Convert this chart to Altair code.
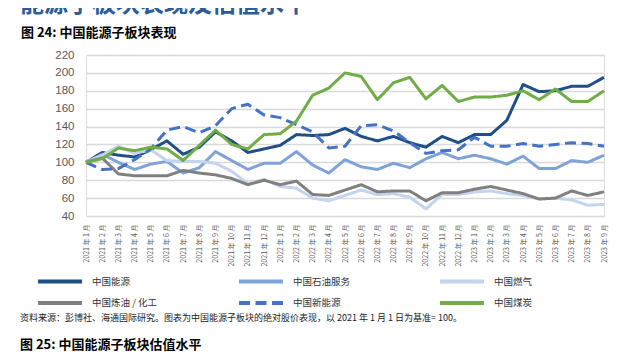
import altair as alt
import pandas as pd

# ---- data ----
years_months = [(2021, m) for m in range(1, 13)] + [(2022, m) for m in range(1, 13)] + [(2023, m) for m in range(1, 10)]
months = [f"{y} 年 {m} 月" for y, m in years_months]

series_names = ["中国能源", "中国石油服务", "中国燃气", "中国炼油 / 化工", "中国新能源", "中国煤炭"]

energy = [100, 111, 108, 106, 114, 124, 109, 117, 134, 124, 111, 115, 119, 131, 130, 131, 138, 129, 124, 129,
          122, 117, 129, 122, 131, 131, 147, 187, 179, 180, 185, 185, 195]
oil_service = [100, 109, 100, 92, 98, 101, 88, 94, 112, 102, 92, 99, 99, 112, 97, 88, 103, 95, 92, 99,
               94, 104, 111, 104, 108, 104, 98, 107, 93, 93, 102, 100, 108]
gas = [100, 108, 118, 110, 114, 102, 101, 101, 99, 90, 76, 81, 73, 71, 60, 57, 63, 69, 64, 65,
       61, 48, 64, 64, 67, 68, 65, 63, 59, 60, 58, 52, 53]
refining = [100, 105, 87, 85, 85, 85, 91, 88, 86, 82, 75, 80, 75, 79, 64, 63, 69, 75, 67, 68,
            68, 57, 66, 66, 70, 73, 69, 65, 59, 60, 68, 63, 67]
new_energy = [100, 92, 93, 103, 115, 136, 140, 133, 141, 160, 165, 153, 150, 142, 134, 116, 118, 141, 142, 135,
              122, 110, 113, 114, 128, 118, 118, 121, 118, 120, 122, 121, 118]
coal = [100, 104, 116, 113, 117, 115, 102, 119, 136, 120, 115, 131, 132, 146, 175, 183, 200, 196, 170, 189,
        195, 171, 186, 168, 173, 173, 175, 180, 170, 182, 168, 168, 180]

all_series = [energy, oil_service, gas, refining, new_energy, coal]

colors = ["#1f4f86", "#7fa3d8", "#c3d4ee", "#808080", "#4472c4", "#70ad47"]
dashes = [[1, 0], [1, 0], [1, 0], [1, 0], [11, 5.5], [1, 0]]

heading = "能源子板块表现及估值水平"
fig_title = "图 24:  中国能源子板块表现"
source = "资料来源：彭博社、海通国际研究。图表为中国能源子板块的绝对股价表现，以 2021 年 1 月 1 日为基准= 100。"
next_title = "图 25:  中国能源子板块估值水平"

# ---- tables ----
rows = []
for name, vals in zip(series_names, all_series):
    for mo, v in zip(months, vals):
        rows.append({"month": mo, "series": name, "value": v})
df = pd.DataFrame(rows)

legend_df = pd.DataFrame({
    "series": series_names,
    "col": [i % 3 for i in range(len(series_names))],
    "row": [i // 3 for i in range(len(series_names))],
})

CJK = "Noto Sans CJK SC"
color_scale = alt.Scale(domain=series_names, range=colors)
dash_scale = alt.Scale(domain=series_names, range=dashes)

lines = alt.Chart(df).mark_line(strokeWidth=3, strokeJoin="round").encode(
    x=alt.X("month:N", sort=months, scale=alt.Scale(type="point", padding=0),
            axis=alt.Axis(title=None, labelAngle=270, labelFontSize=7, labelFont=CJK,
                          labelColor="#595959", ticks=False, domain=False, grid=False,
                          labelPadding=8, labelOverlap=False)),
    y=alt.Y("value:Q", scale=alt.Scale(domain=[40, 220], nice=False, zero=False),
            axis=alt.Axis(title=None, values=list(range(40, 221, 20)), labelFontSize=11.5,
                          labelFont="Liberation Sans", labelColor="#595959", ticks=False,
                          domain=False, grid=True, gridColor="#d9d9d9", gridWidth=1.3,
                          labelPadding=12)),
    color=alt.Color("series:N", scale=color_scale, legend=None),
    strokeDash=alt.StrokeDash("series:N", scale=dash_scale, legend=None),
)

leg_x = alt.X("col:Q", scale=alt.Scale(domain=[0, 1], range=[-48, 153]), axis=None)
leg_y = alt.Y("row:Q", scale=alt.Scale(domain=[0, 1], range=[226.5, 248]), axis=None)

leg_sym = alt.Chart(legend_df).mark_rule(strokeWidth=4, x2Offset=44).encode(
    x=leg_x, x2="col:Q", y=leg_y,
    color=alt.Color("series:N", scale=color_scale, legend=None),
    strokeDash=alt.StrokeDash("series:N", scale=dash_scale, legend=None),
)
leg_txt = alt.Chart(legend_df).mark_text(align="left", baseline="middle", dx=54, fontSize=9.5,
                                         font=CJK, color="#333333").encode(
    x=leg_x, y=leg_y, text="series:N"
)


def label(txt, x, y, size, weight="normal", color="#000000"):
    return alt.Chart(pd.DataFrame({"t": [txt]})).mark_text(
        align="left", baseline="middle", fontSize=size, fontWeight=weight, font=CJK, color=color
    ).encode(x=alt.value(x), y=alt.value(y), text="t:N")


t_head = label(heading, -66, -50, 24, "bold", "#2e5c99")
t_fig = label(fig_title, -65, -22, 13, "bold")
t_src = label(source, -66, 263, 9, "normal", "#222222")
t_next = label(next_title, -66, 290, 13, "bold")

chart = alt.layer(lines, leg_sym, leg_txt, t_head, t_fig, t_src, t_next).resolve_scale(
    x="independent", y="independent"
).properties(
    width=518, height=161,
    padding={"left": 78, "top": 47, "right": 8, "bottom": 138},
    autosize=alt.AutoSizeParams(type="none"),
).configure_view(stroke=None).configure(background="white")

chart.save("out.html", embed_options={"renderer": "svg", "actions": False})
